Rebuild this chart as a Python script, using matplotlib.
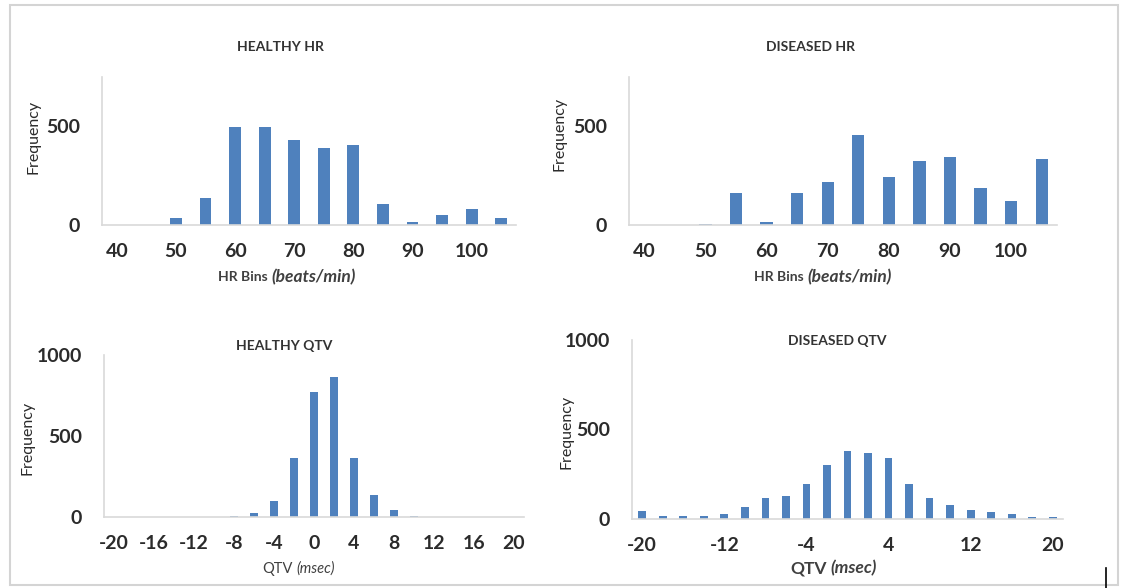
import matplotlib
matplotlib.use("Agg")
import matplotlib.pyplot as plt
from matplotlib.patches import Rectangle

plt.rcParams['font.family'] = ['Lato', 'DejaVu Sans']

# heart-rate bins (beats/min) and counts
hr_bins = [40, 45, 50, 55, 60, 65, 70, 75, 80, 85, 90, 95, 100, 105]
hr_healthy = [0, 0, 38, 137, 498, 497, 432, 392, 404, 106, 15, 51, 82, 36]
hr_diseased = [0, 0, 3, 161, 14, 161, 219, 458, 242, 322, 344, 186, 124, 334]
hr_ticks = [40, 50, 60, 70, 80, 90, 100]

# QT variability bins (msec) and counts
qtv_bins = list(range(-20, 21, 2))
qtv_healthy = [0, 0, 0, 0, 0, 0, 4, 25, 99, 362, 771, 862, 366, 134, 41, 4,
               0, 0, 0, 0, 0]
qtv_diseased = [43, 15, 15, 19, 30, 67, 118, 131, 198, 304, 379, 366, 338, 194,
                116, 78, 49, 37, 30, 13, 11]
qtv_ticks_healthy = [-20, -16, -12, -8, -4, 0, 4, 8, 12, 16, 20]
qtv_ticks_diseased = [-20, -12, -4, 4, 12, 20]

W, H = 1122, 588
BAR = '#4F81BD'
AXC = '#D9D9D9'
TXT = '#2b2b2b'

fig = plt.figure(figsize=(W / 100, H / 100), dpi=100)
fig.patch.set_facecolor('white')


def box(left, right, top, bottom):
    return fig.add_axes([left / W, 1 - bottom / H, (right - left) / W, (bottom - top) / H])


def hist_panel(ax, bins, counts, ticks, ymax, yticks, width):
    idx = list(range(len(bins)))
    ax.bar(idx, counts, width=width, color=BAR, zorder=2)
    ax.set_xlim(-0.5, len(bins) - 0.5)
    ax.set_ylim(0, ymax)
    ax.set_xticks([bins.index(t) for t in ticks])
    ax.set_xticklabels([str(t) for t in ticks])
    ax.set_yticks(yticks)
    for s in ('top', 'right'):
        ax.spines[s].set_visible(False)
    for s in ('left', 'bottom'):
        ax.spines[s].set_color(AXC)
        ax.spines[s].set_linewidth(1.2)
    ax.tick_params(length=0, labelsize=14, colors=TXT, pad=13)
    ax.tick_params(axis='y', pad=16)
    for lab in ax.get_xticklabels() + ax.get_yticklabels():
        lab.set_fontweight('bold')


def px(x, y):
    return x / W, 1 - y / H


def two_part_label(xs, y, plain, ital, s1, s2, weight='bold'):
    fig.text(*px(xs, y), plain, ha='right', va='center', fontsize=s1,
             fontweight=weight, color='#404040')
    fig.text(*px(xs + 3, y), ital, ha='left', va='center', fontsize=s2,
             fontweight=weight, fontstyle='italic', color='#404040')


ax1 = box(102, 516, 77, 225)
hist_panel(ax1, hr_bins, hr_healthy, hr_ticks, 750, [0, 500], 0.4)
ax2 = box(629, 1057, 77, 225)
hist_panel(ax2, hr_bins, hr_diseased, hr_ticks, 750, [0, 500], 0.4)
ax3 = box(104, 524, 355, 517)
hist_panel(ax3, qtv_bins, qtv_healthy, qtv_ticks_healthy, 1000, [0, 500, 1000], 0.36)
ax4 = box(632, 1063, 340, 519)
hist_panel(ax4, qtv_bins, qtv_diseased, qtv_ticks_diseased, 1000, [0, 500, 1000], 0.38)

# panel titles
for x, y, t in [(280, 47, 'HEALTHY HR'), (810, 47, 'DISEASED HR'),
                (284, 346, 'HEALTHY QTV'), (837, 341, 'DISEASED QTV')]:
    fig.text(*px(x, y), t, ha='center', va='center', fontsize=10,
             fontweight='bold', color='#333333')

# y labels
for x, y in [(33, 137), (560, 134), (27, 438), (566, 432)]:
    fig.text(*px(x, y), 'Frequency', rotation=90, ha='center', va='center',
             fontsize=11.5, color=TXT)

# x labels
two_part_label(268, 277, 'HR Bins', '(beats/min)', 10, 12.5)
two_part_label(804, 277, 'HR Bins', '(beats/min)', 10, 12.5)
two_part_label(293, 569, 'QTV', '(msec)', 10.5, 10.5, 'normal')
two_part_label(827, 568, 'QTV', '(msec)', 12.5, 12.5)

# outer frame
fig.add_artist(Rectangle(px(10, 585), 1108 / W, 580 / H, transform=fig.transFigure,
                         fill=False, edgecolor='#D4D4D4', linewidth=1.5))
fig.add_artist(plt.Line2D([1106 / W, 1106 / W], [1 - 568 / H, 1 - 588 / H],
                          transform=fig.transFigure, color='black', linewidth=1.2))

fig.savefig('out.png', dpi=100)
